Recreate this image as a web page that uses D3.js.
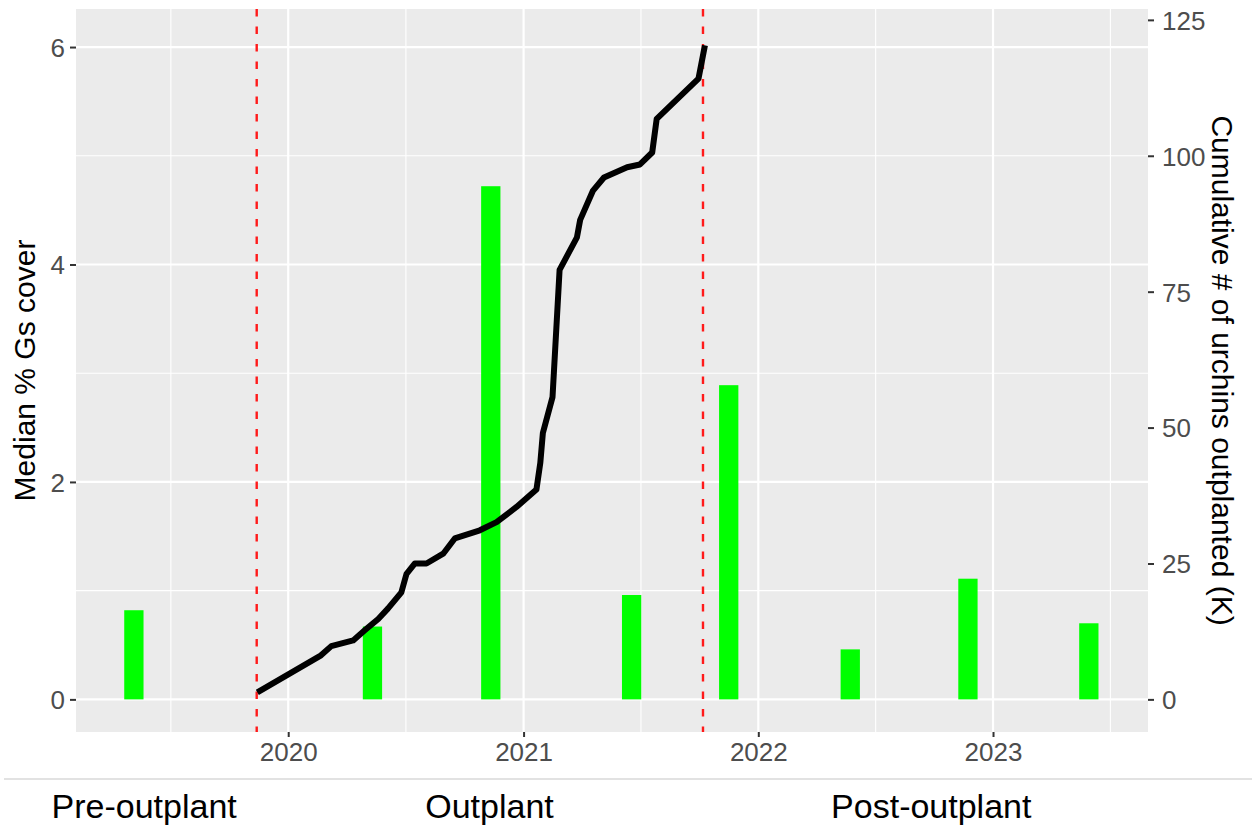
<!DOCTYPE html>
<html>
<head>
<meta charset="utf-8">
<script src="https://cdn.jsdelivr.net/npm/d3@7"></script>
<style>
  html, body { margin: 0; padding: 0; background: #ffffff; }
  svg { display: block; font-family: "Liberation Sans", Arial, sans-serif; }
</style>
</head>
<body>
<svg id="chart" width="1252" height="828"></svg>
<script>
// Survey dates (median Gs cover) and values, %
const surveyDates = ["2019-05-06", "2020-05-11", "2020-11-11", "2021-06-18",
                     "2021-11-16", "2022-05-24", "2022-11-23", "2023-05-30"];
const gsCover = [0.82, 0.67, 4.72, 0.96, 2.89, 0.46, 1.11, 0.70];

// Outplanting record: date and cumulative urchins outplanted (thousands)
const outplantDates = ["2019-11-14", "2020-02-21", "2020-03-08", "2020-04-11", "2020-04-29",
                       "2020-05-20", "2020-06-04", "2020-06-25", "2020-07-03", "2020-07-16",
                       "2020-08-03", "2020-08-29", "2020-09-16", "2020-10-25", "2020-11-20",
                       "2020-12-21", "2021-01-21", "2021-01-27", "2021-01-31", "2021-02-15",
                       "2021-02-26", "2021-03-25", "2021-03-30", "2021-04-19", "2021-05-06",
                       "2021-06-11", "2021-07-01", "2021-07-20", "2021-07-27", "2021-09-30",
                       "2021-10-10"];
const cumulativeK = [1.3, 8.1, 9.8, 10.85, 12.7,
                     14.8, 16.7, 19.7, 23.1, 25.0,
                     25.0, 26.8, 29.6, 31.1, 32.6,
                     35.4, 38.6, 43.5, 49.0, 55.6,
                     79.0, 85.0, 88.2, 93.6, 96.0,
                     97.9, 98.4, 100.6, 106.8, 114.2,
                     120.3];

// Start and end of the outplant period
const phaseBounds = ["2019-11-13", "2021-10-07"];
const phaseLabels = ["Pre-outplant", "Outplant", "Post-outplant"];
const phaseLabelCentres = ["2019-05-22", "2020-11-09", "2022-09-27"];

// Axis ticks
const yearTicks = ["2020", "2021", "2022", "2023"];
const leftTicks = [0, 2, 4, 6];
const leftMinor = [1, 3, 5];
const rightTicks = [0, 25, 50, 75, 100, 125];
const secondaryFactor = 20; // cumulative K = % cover * 20

const parse = d3.timeParse("%Y-%m-%d");
const bars = surveyDates.map((d, i) => ({ date: parse(d), value: gsCover[i] }));
const line = outplantDates.map((d, i) => ({ date: parse(d), value: cumulativeK[i] }));

const panel = { left: 76, right: 1148, top: 9, bottom: 732 };

const svg = d3.select("#chart");

const x = d3.scaleTime()
  .domain([parse("2019-02-05"), parse("2023-08-30")])
  .range([panel.left, panel.right]);

const y = d3.scaleLinear()
  .domain([-0.30, 6.35])
  .range([panel.bottom, panel.top]);

const yRight = d3.scaleLinear()
  .domain(y.domain().map(v => v * secondaryFactor))
  .range([panel.bottom, panel.top]);

// Panel background
svg.append("rect")
  .attr("x", panel.left).attr("y", panel.top)
  .attr("width", panel.right - panel.left)
  .attr("height", panel.bottom - panel.top)
  .attr("fill", "#EBEBEB");

// Grid lines
const yearDates = d3.timeYear.range(parse("2019-01-01"), parse("2024-01-02"));
const majorX = yearTicks.map(t => d3.timeParse("%Y")(t));
const minorX = d3.pairs(yearDates).map(([a, b]) => new Date((+a + +b) / 2))
  .filter(d => d >= x.domain()[0] && d <= x.domain()[1]);

const grid = svg.append("g");
grid.selectAll(".minor-x").data(minorX).join("line")
  .attr("x1", d => x(d)).attr("x2", d => x(d))
  .attr("y1", panel.top).attr("y2", panel.bottom)
  .attr("stroke", "#ffffff").attr("stroke-width", 1.1);
grid.selectAll(".minor-y").data(leftMinor).join("line")
  .attr("x1", panel.left).attr("x2", panel.right)
  .attr("y1", d => y(d)).attr("y2", d => y(d))
  .attr("stroke", "#ffffff").attr("stroke-width", 1.1);
grid.selectAll(".major-x").data(majorX).join("line")
  .attr("x1", d => x(d)).attr("x2", d => x(d))
  .attr("y1", panel.top).attr("y2", panel.bottom)
  .attr("stroke", "#ffffff").attr("stroke-width", 2.2);
grid.selectAll(".major-y").data(leftTicks).join("line")
  .attr("x1", panel.left).attr("x2", panel.right)
  .attr("y1", d => y(d)).attr("y2", d => y(d))
  .attr("stroke", "#ffffff").attr("stroke-width", 2.2);

// Bars: Gs cover, 30-day wide columns centred on the survey date
const halfWidth = 15 * 24 * 3600 * 1000;
svg.append("g").selectAll("rect").data(bars).join("rect")
  .attr("x", d => x(new Date(+d.date - halfWidth)))
  .attr("width", d => x(new Date(+d.date + halfWidth)) - x(new Date(+d.date - halfWidth)))
  .attr("y", d => y(d.value))
  .attr("height", d => y(0) - y(d.value))
  .attr("fill", "#00FF00");

// Outplant period boundaries
svg.append("g").selectAll("line").data(phaseBounds.map(parse)).join("line")
  .attr("x1", d => x(d)).attr("x2", d => x(d))
  .attr("y1", panel.top).attr("y2", panel.bottom)
  .attr("stroke", "#FF1A1A").attr("stroke-width", 2.4)
  .attr("stroke-dasharray", "7.5,10");

// Cumulative outplant line
svg.append("path")
  .datum(line)
  .attr("fill", "none")
  .attr("stroke", "#000000")
  .attr("stroke-width", 6)
  .attr("stroke-linejoin", "round")
  .attr("d", d3.line().x(d => x(d.date)).y(d => yRight(d.value)));

// Axes
const tickColor = "#333333";
const labelColor = "#4D4D4D";

const xAxis = svg.append("g")
  .attr("transform", `translate(0,${panel.bottom})`)
  .call(d3.axisBottom(x).tickValues(majorX).tickFormat(d3.timeFormat("%Y"))
    .tickSize(5).tickPadding(6));
const yAxis = svg.append("g")
  .attr("transform", `translate(${panel.left},0)`)
  .call(d3.axisLeft(y).tickValues(leftTicks).tickFormat(d3.format("d"))
    .tickSize(6).tickPadding(5));
const yAxisRight = svg.append("g")
  .attr("transform", `translate(${panel.right},0)`)
  .call(d3.axisRight(yRight).tickValues(rightTicks).tickFormat(d3.format("d"))
    .tickSize(6).tickPadding(8));

[xAxis, yAxis, yAxisRight].forEach(g => {
  g.select(".domain").remove();
  g.selectAll(".tick line").attr("stroke", tickColor).attr("stroke-width", 2);
  g.selectAll(".tick text")
    .attr("fill", labelColor)
    .style("font-size", "26px")
    .style("font-family", "'Liberation Sans', Arial, sans-serif");
});
yAxis.selectAll(".tick text").attr("dy", "0.36em");
yAxisRight.selectAll(".tick text").attr("dy", "0.36em");

// Axis titles
svg.append("text")
  .attr("transform", `translate(35,${(panel.top + panel.bottom) / 2}) rotate(-90)`)
  .attr("text-anchor", "middle")
  .style("font-size", "30px")
  .attr("fill", "#000000")
  .text("Median % Gs cover");

svg.append("text")
  .attr("transform", `translate(1212,${(panel.top + panel.bottom) / 2}) rotate(90)`)
  .attr("text-anchor", "middle")
  .style("font-size", "30px")
  .attr("fill", "#000000")
  .text("Cumulative # of urchins outplanted (K)");

// Phase strip below the chart
svg.append("line")
  .attr("x1", 4).attr("x2", 1252)
  .attr("y1", 779).attr("y2", 779)
  .attr("stroke", "#D9D9D9").attr("stroke-width", 1.5);

svg.append("g").selectAll("text").data(phaseLabels).join("text")
  .attr("x", (d, i) => x(parse(phaseLabelCentres[i])))
  .attr("y", 818)
  .attr("text-anchor", "middle")
  .style("font-size", "34px")
  .attr("fill", "#000000")
  .text(d => d);
</script>
</body>
</html>
